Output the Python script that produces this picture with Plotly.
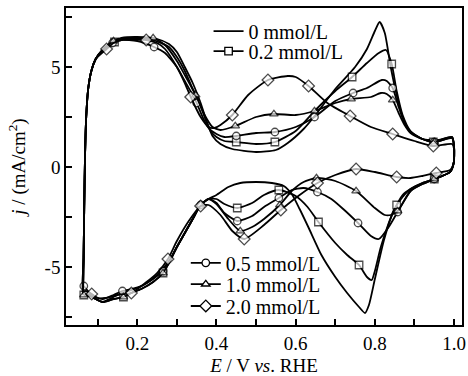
import plotly.graph_objects as go

# Cyclic voltammograms: anodic sweep (0.06 -> 1.0 V) followed by cathodic sweep back.
# MARK_* flags the points that carry a symbol.

E_0 = [0.063, 0.0645, 0.066, 0.068, 0.071, 0.076, 0.084, 0.095, 0.11, 0.125, 0.14, 0.16, 0.20, 0.25,
       0.28, 0.30, 0.32, 0.34, 0.36, 0.375, 0.39, 0.41, 0.44, 0.50, 0.55, 0.58, 0.62, 0.65, 0.70, 0.75,
       0.78, 0.80, 0.812, 0.825, 0.84, 0.855, 0.87, 0.89, 0.92, 0.96, 0.995,
       1.0, 0.999, 0.99, 0.97, 0.95, 0.92, 0.89, 0.87, 0.848, 0.823, 0.80, 0.785, 0.775, 0.76, 0.73,
       0.70, 0.665, 0.633, 0.61, 0.59, 0.57, 0.54, 0.50, 0.46, 0.43, 0.40, 0.38, 0.36, 0.34, 0.32,
       0.30, 0.28, 0.25, 0.22, 0.20, 0.17, 0.15, 0.13, 0.1125, 0.095, 0.08, 0.07, 0.063]
J_0 = [-6.4, -4.5, -2.0, 0.5, 2.5, 3.9, 4.8, 5.4, 5.8, 6.1, 6.3, 6.45, 6.5, 6.4,
       6.15, 5.75, 5.0, 4.2, 3.2, 2.3, 1.55, 1.15, 0.9, 0.75, 0.85, 1.2, 1.9, 2.6, 3.9, 5.0,
       5.9, 6.8, 7.25, 6.7, 5.0, 3.6, 2.5, 1.75, 1.4, 1.35, 1.5,
       1.0, 0.2, -0.25, -0.45, -0.6, -0.8, -1.1, -1.5, -2.15, -3.65, -5.6, -6.9, -7.3, -7.0, -6.3,
       -5.5, -4.4, -3.05, -2.1, -1.35, -0.95, -0.8, -0.75, -0.8, -1.0, -1.4, -1.6, -1.9, -2.6, -3.3,
       -4.0, -4.7, -5.4, -5.85, -6.05, -6.25, -6.4, -6.6, -6.75, -6.6, -6.4, -6.35, -6.4]

E_02 = [0.063, 0.0645, 0.066, 0.068, 0.071, 0.076, 0.084, 0.095, 0.11, 0.1425, 0.16, 0.20, 0.24,
        0.28, 0.30, 0.32, 0.34, 0.355, 0.37, 0.385, 0.40, 0.42, 0.45, 0.50, 0.5475, 0.60, 0.65, 0.70,
        0.7425, 0.78, 0.81, 0.828, 0.8425, 0.855, 0.87, 0.89, 0.92, 0.9475, 0.995,
        1.0, 0.999, 0.99, 0.97, 0.95, 0.92, 0.89, 0.87, 0.855, 0.835, 0.815, 0.80, 0.792, 0.78, 0.76,
        0.73, 0.70, 0.6575, 0.63, 0.60, 0.5575, 0.52, 0.49, 0.4525, 0.42, 0.40, 0.38, 0.36, 0.34,
        0.32, 0.30, 0.28, 0.265, 0.24, 0.21, 0.185, 0.165, 0.14, 0.1125, 0.095, 0.08, 0.065]
J_02 = [-6.4, -4.5, -2.0, 0.5, 2.5, 3.9, 4.8, 5.4, 5.8, 6.25, 6.4, 6.45, 6.35,
        6.0, 5.5, 4.8, 3.9, 3.3, 2.5, 1.8, 1.5, 1.3, 1.25, 1.15, 1.25, 1.8, 2.85, 3.8,
        4.5, 5.2, 5.7, 5.85, 5.15, 3.8, 2.6, 1.8, 1.4, 1.25, 1.5,
        1.0, 0.2, -0.25, -0.45, -0.6, -0.8, -1.1, -1.4, -1.9, -2.8, -4.0, -5.2, -5.65, -5.5, -4.9,
        -4.4, -3.8, -2.75, -2.0, -1.45, -1.15, -1.4, -1.8, -2.05, -1.85, -1.6, -1.6, -1.9, -2.6,
        -3.3, -4.0, -4.8, -5.3, -5.75, -6.1, -6.3, -6.5, -6.6, -6.75, -6.6, -6.45, -6.4]
MARK_02 = [0, 0, 0, 0, 0, 0, 0, 0, 0, 1, 0, 0, 0,
           0, 0, 0, 0, 0, 0, 0, 0, 0, 1, 0, 1, 0, 0, 0,
           1, 0, 0, 0, 1, 0, 0, 0, 0, 1, 0,
           0, 0, 0, 0, 1, 0, 0, 0, 1, 0, 0, 0, 0, 0, 1,
           0, 0, 1, 0, 0, 1, 0, 0, 1, 0, 0, 0, 0, 0,
           0, 0, 0, 1, 0, 0, 0, 1, 0, 0, 0, 0, 1]

E_05 = [0.063, 0.0645, 0.066, 0.068, 0.071, 0.076, 0.084, 0.095, 0.11, 0.1375, 0.16, 0.20, 0.2425,
        0.27, 0.30, 0.32, 0.34, 0.35, 0.365, 0.38, 0.40, 0.42, 0.45, 0.50, 0.5475, 0.60, 0.6475, 0.70,
        0.745, 0.78, 0.8175, 0.83, 0.845, 0.86, 0.875, 0.89, 0.92, 0.95, 0.995,
        1.0, 0.999, 0.99, 0.97, 0.95, 0.92, 0.89, 0.8575, 0.835, 0.81, 0.79, 0.7575, 0.72, 0.69, 0.655,
        0.62, 0.59, 0.5575, 0.52, 0.49, 0.4525, 0.42, 0.40, 0.38, 0.36, 0.34, 0.32, 0.30, 0.28,
        0.265, 0.24, 0.21, 0.185, 0.1625, 0.14, 0.1125, 0.095, 0.08, 0.065]
J_05 = [-6.3, -4.5, -2.0, 0.5, 2.5, 3.9, 4.8, 5.4, 5.8, 6.2, 6.35, 6.3, 6.0,
        5.7, 5.0, 4.3, 3.6, 3.2, 2.5, 1.95, 1.65, 1.5, 1.55, 1.7, 1.75, 2.0, 2.5, 3.3,
        3.7, 3.95, 4.35, 4.3, 3.95, 3.0, 2.2, 1.75, 1.4, 1.25, 1.45,
        1.0, 0.2, -0.25, -0.45, -0.6, -0.85, -1.2, -2.25, -3.0, -3.6, -3.45, -2.8, -2.1, -1.6, -1.25,
        -1.05, -1.15, -1.55, -2.0, -2.45, -2.7, -2.3, -1.8, -1.6, -1.9, -2.6, -3.3, -4.0, -4.75,
        -5.2, -5.6, -5.95, -6.1, -6.2, -6.4, -6.6, -6.5, -6.3, -5.95]
MARK_05 = [0, 0, 0, 0, 0, 0, 0, 0, 0, 1, 0, 0, 1,
           0, 0, 0, 0, 1, 0, 0, 0, 0, 1, 0, 1, 0, 1, 0,
           1, 0, 0, 0, 1, 0, 0, 0, 0, 1, 0,
           0, 0, 0, 0, 1, 0, 0, 1, 0, 0, 0, 1, 0, 0, 1,
           0, 0, 1, 0, 0, 1, 0, 0, 0, 1, 0, 0, 0, 0,
           1, 0, 0, 0, 1, 0, 0, 0, 0, 1]

E_10 = [0.063, 0.0645, 0.066, 0.068, 0.071, 0.076, 0.084, 0.095, 0.11, 0.14, 0.16, 0.20, 0.24,
        0.27, 0.30, 0.32, 0.3475, 0.37, 0.39, 0.41, 0.4475, 0.50, 0.545, 0.60, 0.6475, 0.70, 0.74,
        0.79, 0.815, 0.83, 0.845, 0.86, 0.875, 0.89, 0.92, 0.95, 0.995,
        1.0, 0.999, 0.99, 0.97, 0.95, 0.92, 0.89, 0.8575, 0.84, 0.825, 0.80, 0.7525, 0.70, 0.6525,
        0.62, 0.59, 0.56, 0.52, 0.49, 0.46, 0.43, 0.40, 0.38, 0.36, 0.34, 0.32, 0.30, 0.28, 0.265,
        0.24, 0.21, 0.185, 0.165, 0.14, 0.1125, 0.095, 0.08, 0.065]
J_10 = [-6.4, -4.5, -2.0, 0.5, 2.5, 3.9, 4.8, 5.4, 5.8, 6.3, 6.4, 6.45, 6.45,
        6.1, 5.3, 4.6, 3.6, 2.6, 2.0, 1.85, 2.05, 2.5, 2.65, 2.6, 2.8, 3.2, 3.4,
        3.5, 3.7, 3.65, 3.35, 2.7, 2.1, 1.7, 1.4, 1.25, 1.45,
        1.0, 0.2, -0.25, -0.45, -0.6, -0.85, -1.2, -2.2, -2.4, -2.4, -2.05, -1.2, -0.7, -0.55,
        -0.75, -1.2, -1.9, -2.6, -3.0, -3.2, -2.6, -1.85, -1.6, -1.9, -2.6, -3.3, -4.0, -4.8, -5.3,
        -5.75, -6.1, -6.3, -6.5, -6.6, -6.75, -6.6, -6.45, -6.4]
MARK_10 = [0, 0, 0, 0, 0, 0, 0, 0, 0, 1, 0, 0, 1,
           0, 0, 0, 1, 0, 0, 0, 1, 0, 1, 0, 1, 0, 1,
           0, 0, 0, 1, 0, 0, 0, 0, 1, 0,
           0, 0, 0, 0, 1, 0, 0, 1, 0, 0, 0, 1, 0, 1,
           0, 0, 1, 0, 0, 1, 0, 0, 0, 1, 0, 0, 0, 0, 1,
           0, 0, 0, 1, 0, 0, 0, 0, 1]

E_20 = [0.063, 0.0645, 0.066, 0.068, 0.071, 0.076, 0.084, 0.095, 0.1225, 0.14, 0.16, 0.2225, 0.25,
        0.27, 0.30, 0.32, 0.335, 0.36, 0.38, 0.395, 0.41, 0.44, 0.48, 0.53, 0.58, 0.60, 0.6325, 0.68,
        0.7375, 0.79, 0.845, 0.90, 0.9475, 0.995,
        1.0, 0.999, 0.99, 0.955, 0.92, 0.89, 0.855, 0.80, 0.7525, 0.70, 0.655, 0.61, 0.5625, 0.52,
        0.47, 0.44, 0.41, 0.38, 0.36, 0.33, 0.30, 0.2775, 0.25, 0.22, 0.185, 0.15, 0.12, 0.10, 0.085,
        0.07, 0.063]
J_20 = [-6.2, -4.5, -2.0, 0.5, 2.5, 3.9, 4.8, 5.4, 5.9, 6.2, 6.35, 6.35, 6.2,
        5.9, 5.0, 4.2, 3.5, 2.5, 2.0, 1.95, 2.1, 2.6, 3.6, 4.35, 4.55, 4.5, 4.05, 3.2,
        2.55, 2.0, 1.65, 1.3, 1.05, 1.15,
        0.9, 0.2, -0.15, -0.3, -0.45, -0.55, -0.5, -0.25, -0.1, -0.4, -0.8, -1.4, -2.15, -2.9,
        -3.6, -3.2, -2.4, -1.9, -1.95, -2.7, -3.7, -4.6, -5.3, -5.8, -6.3, -6.4, -6.55, -6.55, -6.35,
        -6.2, -6.2]
MARK_20 = [0, 0, 0, 0, 0, 0, 0, 0, 1, 0, 0, 1, 0,
           0, 0, 0, 1, 0, 0, 0, 0, 1, 0, 1, 0, 0, 1, 0,
           1, 0, 1, 0, 1, 0,
           0, 0, 0, 1, 0, 0, 1, 0, 1, 0, 1, 0, 1, 0,
           1, 0, 0, 0, 1, 0, 0, 1, 0, 0, 1, 0, 0, 0, 1,
           0, 0]

LABELS = ["0 mmol/L", "0.2 mmol/L", "0.5 mmol/L", "1.0 mmol/L", "2.0 mmol/L"]
SYMBOLS = [None, "square", "circle", "triangle-up", "diamond"]

X_TICKS = [0.2, 0.4, 0.6, 0.8, 1.0]
X_TICKTEXT = ["0.2", "0.4", "0.6", "0.8", "1.0"]
Y_TICKS = [-5, 0, 5]
Y_TICKTEXT = ["-5", "0", "5"]

FONT = "Liberation Serif, Times New Roman, DejaVu Serif, serif"
INK = "black"

curves = [
    (E_0, J_0, [0] * len(E_0)),
    (E_02, J_02, MARK_02),
    (E_05, J_05, MARK_05),
    (E_10, J_10, MARK_10),
    (E_20, J_20, MARK_20),
]

def marker_size(sym):
    return 9 if sym == "diamond" else 7.5

fig = go.Figure()

for (e, j, mark), sym in zip(curves, SYMBOLS):
    size = [marker_size(sym) if m else 0 for m in mark]
    lw = [1.3 if m else 0 for m in mark]
    fig.add_trace(go.Scatter(
        x=e, y=j,
        mode="lines+markers" if sym else "lines",
        line=dict(color=INK, width=1.8, shape="spline", smoothing=0.6),
        marker=dict(symbol=sym or "circle", size=size, color="white",
                    line=dict(color=INK, width=lw)),
        showlegend=False, hoverinfo="skip",
    ))

# one legend box per entry so each row sits where it should
LEGEND_IDS = ["legend", "legend2", "legend3", "legend4", "legend5"]
LEGEND_X = [0.36, 0.36, 0.3025, 0.3025, 0.3025]
LEGEND_Y = [0.927, 0.864, 0.196, 0.129, 0.060]

for label, sym, lid in zip(LABELS, SYMBOLS, LEGEND_IDS):
    fig.add_trace(go.Scatter(
        x=[None], y=[None], name=label,
        mode="lines+markers" if sym else "lines",
        line=dict(color=INK, width=1.8),
        marker=dict(symbol=sym or "circle", size=marker_size(sym), color="white",
                    line=dict(color=INK, width=1.3)),
        legend=lid,
    ))

legend_style = dict(font=dict(family=FONT, size=20, color=INK), bgcolor="rgba(0,0,0,0)",
                    borderwidth=0, xanchor="left", yanchor="middle")
legends = {lid: dict(x=lx, y=ly, **legend_style)
           for lid, lx, ly in zip(LEGEND_IDS, LEGEND_X, LEGEND_Y)}

fig.update_layout(
    width=468, height=376,
    margin=dict(l=66, r=2, t=8, b=51),
    paper_bgcolor="white", plot_bgcolor="white",
    font=dict(family=FONT, size=18, color=INK),
    **legends,
    xaxis=dict(
        range=[0.02, 1.02], showgrid=False, zeroline=False,
        showline=True, linecolor=INK, linewidth=1.5, mirror=True,
        ticks="inside", ticklen=6, tickwidth=1.5, tickcolor=INK,
        tickvals=X_TICKS, ticktext=X_TICKTEXT, tickfont=dict(family=FONT, size=19),
        minor=dict(tickmode="linear", tick0=0, dtick=0.1, ticks="inside",
                   ticklen=6, tickwidth=1.5, tickcolor=INK),
        title=dict(text="<i>E</i> / V <i>vs</i>. RHE", font=dict(family=FONT, size=19), standoff=6),
    ),
    yaxis=dict(
        range=[-7.9, 7.95], showgrid=False, zeroline=False,
        showline=True, linecolor=INK, linewidth=1.5, mirror=True,
        ticks="inside", ticklen=6, tickwidth=1.5, tickcolor=INK,
        tickvals=Y_TICKS, ticktext=Y_TICKTEXT, tickfont=dict(family=FONT, size=19),
        minor=dict(tickmode="linear", tick0=0, dtick=2.5, ticks="inside",
                   ticklen=6, tickwidth=1.5, tickcolor=INK),
        title=dict(text="<i>j</i> / (mA/cm<sup>2</sup>)", font=dict(family=FONT, size=19), standoff=14),
    ),
)

fig.write_html("out.html")
